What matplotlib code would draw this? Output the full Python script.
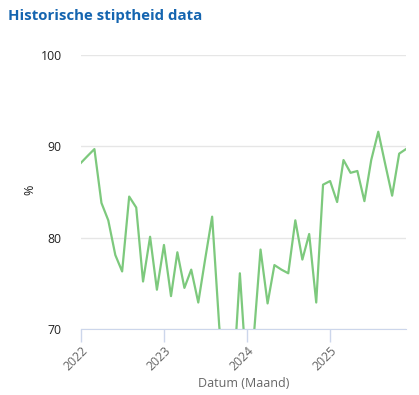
import numpy as np
import pandas as pd
import matplotlib
matplotlib.use("Agg")
import matplotlib.pyplot as plt
import matplotlib.dates as mdates

# monthly punctuality, Jan 2022 .. Dec 2025
months = pd.date_range("2022-01-01", periods=48, freq="MS")
stiptheid = [
    88.2, 89.0, 89.7, 83.8, 81.9, 78.1, 76.3, 84.5, 83.3, 75.2, 80.1, 74.3,
    79.2, 73.6, 78.4, 74.5, 76.5, 72.9, 77.6, 82.3, 70.4, 62.0, 64.0, 76.1,
    64.5, 69.4, 78.7, 72.8, 77.0, 76.5, 76.1, 81.9, 77.6, 80.4, 72.9, 85.8,
    86.2, 83.9, 88.5, 87.1, 87.3, 84.0, 88.5, 91.6, 88.0, 84.6, 89.2, 89.7,
]
year_ticks = ["2022", "2023", "2024", "2025"]
y_ticks = [70, 80, 90, 100]

plt.rcParams["font.family"] = ["Open Sans", "DejaVu Sans"]

W, H = 419, 395
fig = plt.figure(figsize=(W / 100, H / 100), dpi=100)
ax = fig.add_axes([81 / W, 1 - 329 / H, (406 - 81) / W, (329 - 55) / H])

ax.plot(months, stiptheid, color="#7dc97d", lw=1.6, clip_on=True)

ax.set_ylim(70, 100)
ax.set_yticks(y_ticks)
ax.set_xlim(months[0], months[-1])
ax.set_xticks([pd.Timestamp(y + "-01-01") for y in year_ticks])
ax.set_xticklabels(year_ticks, rotation=45, ha="right", rotation_mode="anchor",
                   color="#666666", fontsize=8.8)
ax.tick_params(axis="x", length=9, color="#ccd6eb", width=1, pad=2)
ax.tick_params(axis="y", length=0, labelsize=8.8, labelcolor="#222222", pad=14)

ax.grid(axis="y", color="#e6e6e6", lw=1)
ax.set_axisbelow(True)
for s in ["left", "right", "top"]:
    ax.spines[s].set_visible(False)
ax.spines["bottom"].set_color("#ccd6eb")

ax.set_xlabel("Datum (Maand)", color="#666666", fontsize=9, labelpad=3)
fig.text(30 / W, 1 - 190 / H, "%", rotation=90, fontsize=9, color="#222222",
         ha="center", va="center")
fig.text(8 / W, 1 - 16 / H, "Historische stiptheid data", fontsize=10.8,
         fontweight="bold", color="#1565b0", ha="left", va="center")

fig.savefig("out.png", dpi=100)
